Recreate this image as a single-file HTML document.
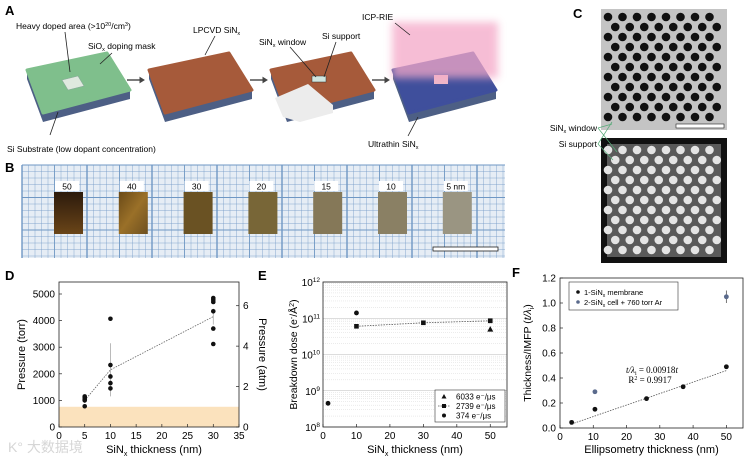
<!DOCTYPE html>
<html><head><meta charset="utf-8">
<style>
html,body{margin:0;padding:0;background:#fff;}
svg{display:block;font-family:"Liberation Sans","Noto Sans CJK SC",sans-serif;}
</style></head>
<body>
<svg id="fig" width="750" height="458" viewBox="0 0 750 458" xmlns="http://www.w3.org/2000/svg">
<defs>
  <filter id="blur" x="-30%" y="-30%" width="160%" height="160%"><feGaussianBlur stdDeviation="4"/></filter>
  <linearGradient id="s50" x1="0" y1="0" x2="0" y2="1"><stop offset="0" stop-color="#2c1a0c"/><stop offset="1" stop-color="#6a4518"/></linearGradient>
  <linearGradient id="s40" x1="0" y1="0" x2="1" y2="1"><stop offset="0" stop-color="#6a4a18"/><stop offset="0.5" stop-color="#9a7028"/><stop offset="1" stop-color="#6e5020"/></linearGradient>
</defs>

<!-- Panel A -->
<g>
  <text x="5" y="15" font-size="13" font-weight="bold">A</text>
  <g id="blocks"></g>
  <rect x="392" y="22" width="106" height="56" fill="#f4a8c8" opacity="0.75" filter="url(#blur)"/>
  <text x="16" y="29" font-size="8.5">Heavy doped area (&gt;10<tspan font-size="5.5" dy="-3">20</tspan><tspan dy="3">/cm</tspan><tspan font-size="5.5" dy="-3">3</tspan><tspan dy="3">)</tspan></text>
  <text x="88" y="49" font-size="8.5">SiO<tspan font-size="5.5" dy="2">x</tspan><tspan dy="-2"> doping mask</tspan></text>
  <text x="7" y="152" font-size="8.5">Si Substrate (low dopant concentration)</text>
  <text x="193" y="33" font-size="8.5">LPCVD SiN<tspan font-size="5.5" dy="2">x</tspan></text>
  <text x="259" y="45" font-size="8.5">SiN<tspan font-size="5.5" dy="2">x</tspan><tspan dy="-2"> window</tspan></text>
  <text x="322" y="39" font-size="8.5">Si support</text>
  <text x="362" y="20" font-size="8.5">ICP-RIE</text>
  <text x="368" y="147" font-size="8.5">Ultrathin SiN<tspan font-size="5.5" dy="2">x</tspan></text>
  <g stroke="#222" stroke-width="0.8" fill="none">
    <line x1="65" y1="32" x2="70" y2="72"/><line x1="112" y1="53" x2="100" y2="64"/>
    <line x1="50" y1="135" x2="58" y2="112"/><line x1="215" y1="36" x2="205" y2="55"/>
    <line x1="290" y1="47" x2="316" y2="77"/><line x1="336" y1="42" x2="324" y2="77"/>
    <line x1="395" y1="23" x2="410" y2="35"/><line x1="408" y1="136" x2="418" y2="117"/>
  </g>
  <g id="arrows" fill="#444" stroke="#444">
    <line x1="127" y1="80" x2="140" y2="80" stroke-width="1.4"/><polygon points="140,77.5 144,80 140,82.5"/>
    <line x1="250" y1="80" x2="263" y2="80" stroke-width="1.4"/><polygon points="263,77.5 267,80 263,82.5"/>
    <line x1="372" y1="80" x2="385" y2="80" stroke-width="1.4"/><polygon points="385,77.5 389,80 385,82.5"/>
  </g>
</g>

<!-- Panel B -->
<g>
  <text x="5" y="172" font-size="13" font-weight="bold">B</text>
  <rect x="22" y="165" width="483" height="93" fill="#e6edf5"/>
  <g id="gridB"></g>
  <g id="samplesB"></g>
  <rect x="433" y="247" width="65" height="4" fill="#fff" stroke="#222" stroke-width="0.8"/>
</g>

<!-- Panel C -->
<g>
  <text x="573" y="18" font-size="13" font-weight="bold">C</text>
  <rect x="601" y="9" width="126" height="121" fill="#c4c4c4"/>
  <g id="holesTop"></g>
  <rect x="676" y="124" width="48" height="4" fill="#fff" stroke="#222" stroke-width="0.6"/>
  <rect x="601" y="138" width="126" height="125" fill="#111"/>
  <rect x="607" y="144" width="114" height="113" fill="#5a5a5a"/>
  <g id="holesBot"></g>
  <text x="597" y="131" font-size="8.5" text-anchor="end">SiN<tspan font-size="5.5" dy="2">x</tspan><tspan dy="-2"> window</tspan></text>
  <text x="597" y="147" font-size="8.5" text-anchor="end">Si support</text>
  <g stroke="#5a7" stroke-width="0.7">
    <line x1="598" y1="128" x2="612" y2="124"/><line x1="598" y1="128" x2="617" y2="152"/>
    <line x1="598" y1="144" x2="612" y2="122"/><line x1="598" y1="144" x2="613" y2="160"/>
  </g>
</g>

<text x="8" y="452" font-size="14" fill="#d6d6d6">K° 大数据境</text>

<g id="panelD"></g>
<g id="panelE"></g>
<g id="panelF"></g>
</svg>

<script>
// ---------- Panel D data ----------
const dThickness = [5, 10, 30];
const dPressure5 = [1150, 1100, 1050, 1000, 780];
const dPressure10 = [4070, 2330, 1900, 1650, 1450];
const dPressure30 = [4850, 4780, 4700, 4350, 3700, 3120];
const dMean = [1000, 2150, 4150];
const dErrLow = [900, 1150, 3850];
const dErrHigh = [1150, 3150, 4450];
const dXTicks = [0, 5, 10, 15, 20, 25, 30, 35];
const dYTicks = [0, 1000, 2000, 3000, 4000, 5000];
const dAtmTicks = [0, 2, 4, 6];
const dAtmBand = 760;
// ---------- Panel E data ----------
const eThick6033 = [50];
const eDose6033 = [5e10];
const eThick2739 = [10, 30, 50];
const eDose2739 = [6e10, 7.5e10, 8.5e10];
const eThick374 = [1.5, 10];
const eDose374 = [4.5e8, 1.4e11];
const eXTicks = [0, 10, 20, 30, 40, 50];
const eDecades = [8, 9, 10, 11, 12];
// ---------- Panel F data ----------
const fEllip = [3.5, 10.5, 26, 37, 50];
const fRatio = [0.045, 0.15, 0.235, 0.33, 0.49];
const fCellX = [10.5, 50];
const fCellY = [0.29, 1.05];
const fCellErr = [0, 0.05];
const fSlope = 0.00918;
const fXTicks = [0, 10, 20, 30, 40, 50];
const fYTicks = [0, 0.2, 0.4, 0.6, 0.8, 1.0, 1.2];
// ---------- Panel B data ----------
const bLabels = ['50', '40', '30', '20', '15', '10', '5 nm'];

const NS = 'http://www.w3.org/2000/svg';
function el(tag, attrs, parent) {
  const e = document.createElementNS(NS, tag);
  for (const k in attrs) e.setAttribute(k, attrs[k]);
  parent.appendChild(e);
  return e;
}
function tx(x, y, s, size, anchor, parent) {
  const t = el('text', {x: x, y: y, 'font-size': size, 'text-anchor': anchor}, parent);
  t.textContent = s;
  return t;
}

// ---------- Panel A blocks ----------
(function () {
  const g = document.getElementById('blocks');
  const tops = ['#7fbf8c', '#a65a3a', '#a65a3a', '#3f4f9c'];
  for (let i = 0; i < 4; i++) {
    const d = i * 122;
    const P = (x, y) => (x + d) + ',' + y;
    const side = el('polygon', {points: [P(27,70), P(43,113), P(130,90), P(130,99), P(43,122), P(27,79)].join(' '), fill: '#4d5f85'}, g);
    
    
    const top = el('polygon', {points: [P(27,70), P(107,53), P(130,90), P(43,113)].join(' '), fill: tops[i], stroke: tops[i], 'stroke-width': 3, 'stroke-linejoin': 'round'}, g);
    
    
  }
  const mask = el('polygon', {points: '62,80 78,76 84,86 68,90', fill: '#dfe9df', stroke: '#8a9', 'stroke-width': 0.6}, g);
  
  
  const cut = el('polygon', {points: '275,98 308,84 333,105 333,113 300,122 283,117', fill: '#ececec'}, g);
  
  
  const win = el('rect', {x: 312, y: 76, width: 14, height: 6, fill: '#cfe6e0', stroke: '#333', 'stroke-width': 0.5}, g);
  
  
  const pk = el('rect', {x: 434, y: 75, width: 14, height: 9, fill: '#f0b8c8'}, g);
  
  
})();

// ---------- Panel B ----------
(function () {
  const g = document.getElementById('gridB');
  for (let i = 0; i * 6.5 <= 483; i++) {
    const x = 22 + i * 6.5;
    const w = i % 10 === 0 ? 1.4 : (i % 5 === 0 ? 0.9 : 0.4);
    const l = el('line', {x1: x, y1: 165, x2: x, y2: 258, stroke: '#6f97c4', 'stroke-width': w}, g);
    
    
  }
  for (let j = 0; j * 6.5 <= 93; j++) {
    const y = 165 + j * 6.5;
    const w = j % 5 === 0 ? 0.9 : 0.4;
    const l = el('line', {x1: 22, y1: y, x2: 505, y2: y, stroke: '#6f97c4', 'stroke-width': w}, g);
    
    
  }
  const s = document.getElementById('samplesB');
  const fills = ['url(#s50)', 'url(#s40)', '#6a5223', '#786637', '#857858', '#8a8064', '#9a9582'];
  for (let i = 0; i < bLabels.length; i++) {
    const x = 54 + i * 64.8;
    const r = el('rect', {x: x, y: 192, width: 29, height: 42, fill: fills[i]}, s);
    
    
    const lb = el('rect', {x: x + 1, y: 181, width: 24, height: 10, fill: '#fff'}, s);
    
    
    const t = tx(x + 13, 189.5, bLabels[i], 8.5, 'middle', s);
    
    
  }
})();

// ---------- Panel C holes ----------
(function () {
  const gt = document.getElementById('holesTop');
  const gb = document.getElementById('holesBot');
  for (let r = 0; r < 13; r++) {
    for (let c = 0; c < 10; c++) {
      const x = 608 + c * 14.5 + (r % 2 ? 7.25 : 0);
      const y1 = 17 + r * 10;
      if (x < 724 && y1 < 127) {
        const h = el('circle', {cx: x, cy: y1, r: 4.3, fill: '#111'}, gt);
        
        
      }
      const y2 = 150 + r * 10;
      if (x > 607 && x < 721 && y2 < 257) {
        const h2 = el('circle', {cx: x, cy: y2, r: 4.3, fill: '#e4e4e4'}, gb);
        
        
      }
    }
  }
})();

// ---------- Panel D ----------
(function () {
  const g = document.getElementById('panelD');
  const L = 59, R = 239, T = 282, B = 427;
  const xS = v => L + v / 35 * (R - L);
  const yS = v => B - v / 1000 * 26.6;
  const yAtm = v => yS(v * 760);
  const lab = tx(5, 280, 'D', 13, 'start', g);
  lab.setAttribute('font-weight', 'bold');
  
  
  const band = el('rect', {x: L, y: yS(dAtmBand), width: R - L, height: B - yS(dAtmBand), fill: '#fbe2bd'}, g);
  
  
  const box = el('rect', {x: L, y: T, width: R - L, height: B - T, fill: 'none', stroke: '#222', 'stroke-width': 0.8}, g);
  
  
  dXTicks.forEach(v => {
    el('line', {x1: xS(v), y1: B, x2: xS(v), y2: B - 3, stroke: '#222', 'stroke-width': 0.7}, g);
    const t = tx(xS(v), B + 12, String(v), 10, 'middle', g);
    
    
  });
  dYTicks.forEach(v => {
    el('line', {x1: L, y1: yS(v), x2: L + 3, y2: yS(v), stroke: '#222', 'stroke-width': 0.7}, g);
    const t = tx(L - 4, yS(v) + 3.5, String(v), 10, 'end', g);
    
    
  });
  dAtmTicks.forEach(v => {
    el('line', {x1: R, y1: yAtm(v), x2: R - 3, y2: yAtm(v), stroke: '#222', 'stroke-width': 0.7}, g);
    const t = tx(R + 4, yAtm(v) + 3.5, String(v), 10, 'start', g);
    
    
  });
  const yl = tx(0, 0, 'Pressure (torr)', 11, 'middle', g);
  yl.setAttribute('transform', 'translate(25,' + ((T + B) / 2) + ') rotate(-90)');
  
  
  const yr = tx(0, 0, 'Pressure (atm)', 11, 'middle', g);
  yr.setAttribute('transform', 'translate(259,' + ((T + B) / 2) + ') rotate(90)');
  
  
  const xl = el('text', {x: (L + R) / 2 + 5, y: 453, 'font-size': 11, 'text-anchor': 'middle'}, g);
  xl.innerHTML = 'SiN<tspan font-size="7" dy="3">x</tspan><tspan dy="-3"> thickness (nm)</tspan>';
  
  
  const pts = dThickness.map((t, i) => xS(t) + ',' + yS(dMean[i])).join(' ');
  const ml = el('polyline', {points: pts, fill: 'none', stroke: '#666', 'stroke-width': 0.8, 'stroke-dasharray': '1.5,1.2'}, g);
  
  
  dThickness.forEach((t, i) => {
    const e = el('line', {x1: xS(t), y1: yS(dErrLow[i]), x2: xS(t), y2: yS(dErrHigh[i]), stroke: '#aaa', 'stroke-width': 0.8}, g);
    
    
  });
  [dPressure5, dPressure10, dPressure30].forEach((arr, i) => {
    arr.forEach(p => {
      const c = el('circle', {cx: xS(dThickness[i]), cy: yS(p), r: 2.3, fill: '#111'}, g);
      
      
    });
  });
})();

// ---------- Panel E ----------
(function () {
  const g = document.getElementById('panelE');
  const L = 323, R = 507, T = 282, B = 427;
  const xS = v => L + v / 55 * (R - L);
  const yS = v => B - (Math.log10(v) - 8) * (B - T) / 4;
  const lab = tx(258, 280, 'E', 13, 'start', g);
  lab.setAttribute('font-weight', 'bold');
  
  
  for (let d = 8; d < 12; d++) {
    for (let m = 2; m <= 9; m++) {
      const y = yS(m * Math.pow(10, d));
      const gl = el('line', {x1: L, y1: y, x2: R, y2: y, stroke: '#d8d8d8', 'stroke-width': 0.5, 'stroke-dasharray': '1,1'}, g);
      
      
    }
  }
  eDecades.forEach(d => {
    const y = yS(Math.pow(10, d));
    const gl = el('line', {x1: L, y1: y, x2: R, y2: y, stroke: '#bbb', 'stroke-width': 0.6}, g);
    
    
    const t = el('text', {x: L - 3, y: y + 4, 'font-size': 10, 'text-anchor': 'end'}, g);
    t.innerHTML = '10<tspan font-size="6.5" dy="-4">' + d + '</tspan>';
    
    
  });
  const box = el('rect', {x: L, y: T, width: R - L, height: B - T, fill: 'none', stroke: '#222', 'stroke-width': 0.8}, g);
  
  
  eXTicks.forEach(v => {
    el('line', {x1: xS(v), y1: B, x2: xS(v), y2: B - 3, stroke: '#222', 'stroke-width': 0.7}, g);
    const t = tx(xS(v), B + 12, String(v), 10, 'middle', g);
    
    
  });
  const yl = el('text', {'font-size': 10.5, 'text-anchor': 'middle', transform: 'translate(297,' + ((T + B) / 2) + ') rotate(-90)'}, g);
  yl.innerHTML = 'Breakdown dose (e<tspan font-size="7" dy="-3">-</tspan><tspan dy="3">/Å</tspan><tspan font-size="7" dy="-3">2</tspan><tspan dy="3">)</tspan>';
  
  
  const xl = el('text', {x: (L + R) / 2, y: 453, 'font-size': 11, 'text-anchor': 'middle'}, g);
  xl.innerHTML = 'SiN<tspan font-size="7" dy="3">x</tspan><tspan dy="-3"> thickness (nm)</tspan>';
  
  
  const ln = el('polyline', {points: eThick2739.map((t, i) => xS(t) + ',' + yS(eDose2739[i])).join(' '), fill: 'none', stroke: '#555', 'stroke-width': 0.8, 'stroke-dasharray': '1.5,1.2'}, g);
  
  
  eThick2739.forEach((t, i) => {
    const p = el('rect', {x: xS(t) - 2.3, y: yS(eDose2739[i]) - 2.3, width: 4.6, height: 4.6, fill: '#111'}, g);
    
    
  });
  eThick6033.forEach((t, i) => {
    const x = xS(t), y = yS(eDose6033[i]);
    const p = el('polygon', {points: x + ',' + (y - 3) + ' ' + (x - 3) + ',' + (y + 2.5) + ' ' + (x + 3) + ',' + (y + 2.5), fill: '#111'}, g);
    
    
  });
  eThick374.forEach((t, i) => {
    const p = el('circle', {cx: xS(t), cy: yS(eDose374[i]), r: 2.4, fill: '#111'}, g);
    
    
  });
  const lg = el('rect', {x: 435, y: 390, width: 70, height: 32, fill: '#fff', stroke: '#333', 'stroke-width': 0.6}, g);
  
  
  const ents = ['6033 e⁻/μs', '2739 e⁻/μs', '374 e⁻/μs'];
  ents.forEach((s, i) => {
    const y = 396.5 + i * 9.5;
    if (i === 0) el('polygon', {points: '444,' + (y - 2.5) + ' 441.5,' + (y + 2) + ' 446.5,' + (y + 2), fill: '#111'}, g);
    if (i === 1) { el('line', {x1: 438, y1: y, x2: 450, y2: y, stroke: '#555', 'stroke-width': 0.7, 'stroke-dasharray': '1.5,1'}, g); el('rect', {x: 442, y: y - 2, width: 4, height: 4, fill: '#111'}, g); }
    if (i === 2) el('circle', {cx: 444, cy: y, r: 2, fill: '#111'}, g);
    const t = tx(456, y + 3, s, 8, 'start', g);
    
    
  });
})();

// ---------- Panel F ----------
(function () {
  const g = document.getElementById('panelF');
  const L = 560, R = 743, T = 278, B = 428;
  const xS = v => L + v / 55 * (R - L);
  const yS = v => B - v / 1.2 * (B - T);
  const lab = tx(512, 277, 'F', 13, 'start', g);
  lab.setAttribute('font-weight', 'bold');
  
  
  const box = el('rect', {x: L, y: T, width: R - L, height: B - T, fill: 'none', stroke: '#222', 'stroke-width': 0.8}, g);
  
  
  fXTicks.forEach(v => {
    el('line', {x1: xS(v), y1: B, x2: xS(v), y2: B - 3, stroke: '#222', 'stroke-width': 0.7}, g);
    const t = tx(xS(v), B + 12, String(v), 10, 'middle', g);
    
    
  });
  fYTicks.forEach(v => {
    el('line', {x1: L, y1: yS(v), x2: L + 3, y2: yS(v), stroke: '#222', 'stroke-width': 0.7}, g);
    const t = tx(L - 4, yS(v) + 3.5, v.toFixed(1), 10, 'end', g);
    
    
  });
  const yl = el('text', {'font-size': 10.5, 'text-anchor': 'middle', transform: 'translate(531,' + ((T + B) / 2) + ') rotate(-90)'}, g);
  yl.innerHTML = 'Thickness/IMFP (<tspan font-style="italic">t/λ</tspan><tspan font-size="7" dy="3">i</tspan><tspan dy="-3">)</tspan>';
  
  
  const xl = tx((L + R) / 2, 453, 'Ellipsometry thickness (nm)', 11, 'middle', g);
  
  
  const x0 = fEllip[0], x1 = fEllip[fEllip.length - 1];
  const fit = el('line', {x1: xS(x0), y1: yS(fSlope * x0), x2: xS(x1), y2: yS(fSlope * x1), stroke: '#555', 'stroke-width': 0.8, 'stroke-dasharray': '1.5,1.2'}, g);
  
  
  fEllip.forEach((t, i) => {
    const p = el('circle', {cx: xS(t), cy: yS(fRatio[i]), r: 2.4, fill: '#111'}, g);
    
    
  });
  fCellX.forEach((t, i) => {
    if (fCellErr[i] > 0) {
      const e = el('line', {x1: xS(t), y1: yS(fCellY[i] - fCellErr[i]), x2: xS(t), y2: yS(fCellY[i] + fCellErr[i]), stroke: '#555', 'stroke-width': 0.8}, g);
      
      
    }
    const p = el('circle', {cx: xS(t), cy: yS(fCellY[i]), r: 2.4, fill: '#5a6a8c'}, g);
    
    
  });
  const lg = el('rect', {x: 569, y: 282, width: 109, height: 28, fill: '#fff', stroke: '#333', 'stroke-width': 0.6}, g);
  
  
  el('circle', {cx: 578, cy: 292, r: 1.8, fill: '#111'}, g);
  el('circle', {cx: 578, cy: 302, r: 1.8, fill: '#5a6a8c'}, g);
  const l1 = el('text', {x: 584, y: 295, 'font-size': 7.5}, g);
  l1.innerHTML = '1-SiN<tspan font-size="5" dy="2">x</tspan><tspan dy="-2"> membrane</tspan>';
  
  
  const l2 = el('text', {x: 584, y: 305, 'font-size': 7.5}, g);
  l2.innerHTML = '2-SiN<tspan font-size="5" dy="2">x</tspan><tspan dy="-2"> cell + 760 torr Ar</tspan>';
  
  
  const eq = el('text', {x: 652, y: 373, 'font-size': 9, 'text-anchor': 'middle', 'font-family': 'Liberation Serif, serif'}, g);
  eq.innerHTML = '<tspan font-style="italic">t/λ</tspan><tspan font-size="6" dy="2">i</tspan><tspan dy="-2"> = 0.00918</tspan><tspan font-style="italic">t</tspan>';
  
  
  const r2 = el('text', {x: 650, y: 383, 'font-size': 9, 'text-anchor': 'middle', 'font-family': 'Liberation Serif, serif'}, g);
  r2.innerHTML = 'R<tspan font-size="6" dy="-3">2</tspan><tspan dy="3"> = 0.9917</tspan>';
  
  
})();
</script>
</body></html>
